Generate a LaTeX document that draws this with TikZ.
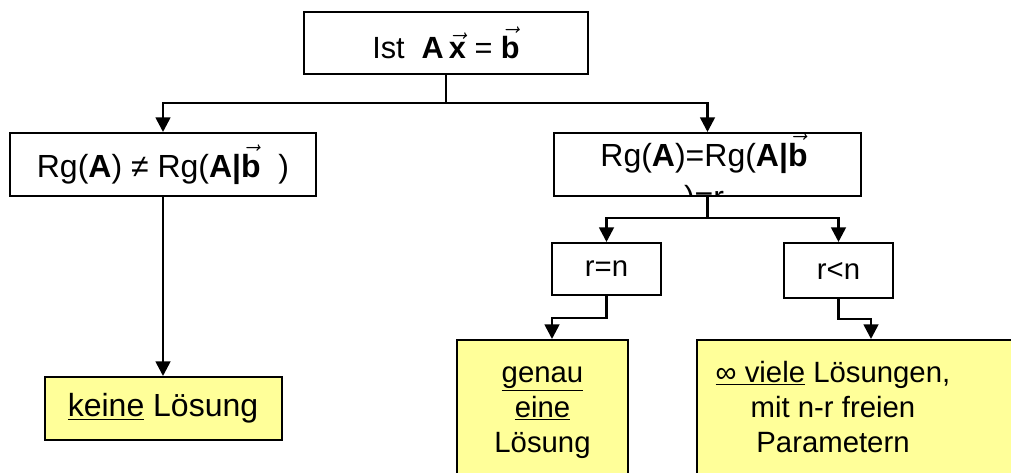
\documentclass[tikz,border=0pt]{standalone}
\usepackage{fontspec}
\setmainfont{Liberation Sans}
\usepackage{tikz}
\usetikzlibrary{arrows.meta, positioning}
\definecolor{loesgelb}{RGB}{255,255,153}
\newcommand{\vekt}[1]{$\vec{\hbox{\bfseries #1}}$}
\newcommand{\zeilen}[1]{\begin{tabular}[t]{@{}c@{}}#1\end{tabular}}

\begin{document}
\begin{tikzpicture}
  [x=0.75pt, y=-0.75pt,
  frage/.style={rectangle, draw=black, line width=1.5pt, fill=white, inner sep=0pt, font=\fontsize{22}{26.5}\selectfont},
  gross/.style={font=\fontsize{24}{29.5}\selectfont},
  ergebnis/.style={frage, fill=loesgelb},
  schrift/.style={inner sep=0pt, font=\fontsize{22}{26.5}\selectfont},
  linie/.style={line width=2pt},
  pfeil/.style={line width=2pt, -{Triangle[width=11pt,length=11pt]}}]

\useasboundingbox (0,0) rectangle (1011,472);
\clip (0,0) rectangle (1011,472);

% Question and the two cases
\node[frage, font=\fontsize{23}{28}\selectfont, minimum width=213pt, minimum height=46.5pt] (ist) at (446,43) {Ist\ \ \textbf{A}\,\vekt{x}\ = \vekt{b}};
\node[frage, gross, minimum width=229.5pt, minimum height=47.25pt] (ungl) at (163,164.5) {Rg(\textbf{A}) ≠ Rg(\textbf{A|}\vekt{b}\ \ )};
\node[frage, minimum width=230.25pt, minimum height=47.25pt] (gleich) at (707.5,164.5) {};
\begin{scope}
  \clip (gleich.north west) rectangle ([yshift=1.5pt]gleich.south east);
  \node[schrift, font=\fontsize{24}{31.5}\selectfont, anchor=base] (gleichtext) at (704,166) {\zeilen{Rg(\textbf{A})=Rg(\textbf{A|}\vekt{b}\ \\)=r}};
\end{scope}

% Rank cases
\node[frage, minimum width=81.75pt, minimum height=39pt] (rn) at (606.5,269) {r=n};
\node[frage, minimum width=81.75pt, minimum height=41.25pt] (rkn) at (838.5,270.5) {r<n};

% Results
\node[ergebnis, gross, minimum width=177.75pt, minimum height=47.25pt] (keine) at (163,408.5) {\underline{keine} Lösung};
\node[ergebnis, minimum width=128.25pt, minimum height=105pt] (genau) at (542.5,410) {};
\node[schrift, anchor=base] (genautext) at (542.5,382) {\zeilen{\underline{genau}\\\underline{eine}\\Lösung}};
\node[ergebnis, minimum width=257.25pt, minimum height=105pt] (unendl) at (868.5,410) {};
\node[schrift, anchor=base] (unendltext) at (833,382) {\zeilen{\underline{∞ viele} Lösungen,\\mit n-r freien\\Parametern}};

% Connectors
\coordinate (verz1) at (446,103);
\draw[linie] (ist.south) -- (verz1);
\draw[pfeil] (verz1) -| (ungl.north);
\draw[pfeil] (verz1) -| (gleich.north);
\draw[pfeil] (ungl.south) -- (keine.north);
\coordinate (verz2) at (707.5,218);
\draw[linie] (gleich.south) -- (verz2);
\draw[pfeil] (verz2) -| (rn.north);
\draw[pfeil] (verz2) -| (rkn.north);
\coordinate (knick1) at (552,318);
\draw[pfeil] (rn.south) |- (knick1) -- (knick1 |- genau.north);
\coordinate (knick2) at (871,319);
\draw[pfeil] (rkn.south) |- (knick2) -- (knick2 |- unendl.north);

\end{tikzpicture}
\end{document}
